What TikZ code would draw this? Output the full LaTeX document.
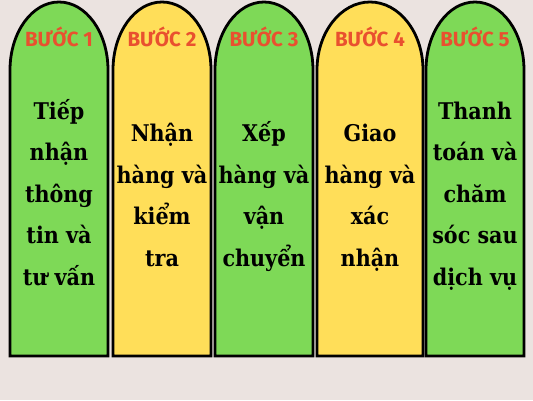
\documentclass[tikz,border=0pt]{standalone}
\usepackage{fontspec}
\setmainfont{DejaVu Serif Condensed}
\newfontfamily\titlefont{Fira Sans}
\usepackage{tikz}

\definecolor{bargreen}{HTML}{7ED957}
\definecolor{baryellow}{HTML}{FFDE59}
\definecolor{titlered}{HTML}{E9502F}
\definecolor{bgpaper}{HTML}{EBE3E0}

\begin{document}
\begin{tikzpicture}[x=1pt, y=1pt,
            green bar/.style={draw=black, line width=2.8pt, fill=bargreen},
            yellow bar/.style={draw=black, line width=2.8pt, fill=baryellow},
            title node/.style={anchor=base, text=titlered, font=\titlefont\bfseries\fontsize{20.5}{21}\selectfont},
            main node/.style={anchor=base, align=center, inner sep=0pt, font=\bfseries\fontsize{23}{41.5}\selectfont}]

        \fill[bgpaper] (0,0) rectangle (533,400);
        \useasboundingbox (0,0) rectangle (533,400);

        \draw[green bar] (10,44) -- (10,330) arc[start angle=180, end angle=0, x radius=49, y radius=68] -- (108,44) -- cycle;
        \draw[yellow bar] (113,44) -- (113,330) arc[start angle=180, end angle=0, x radius=49, y radius=68] -- (211,44) -- cycle;
        \draw[green bar] (215,44) -- (215,330) arc[start angle=180, end angle=0, x radius=49, y radius=68] -- (313,44) -- cycle;
        \draw[yellow bar] (317,44) -- (317,330) arc[start angle=180, end angle=0, x radius=53, y radius=68] -- (423,44) -- cycle;
        \draw[green bar] (426,44) -- (426,330) arc[start angle=180, end angle=0, x radius=49, y radius=68] -- (524,44) -- cycle;

        \node[title node] (title1) at (59,353.5) {BƯỚC 1};
        \node[title node] (title2) at (162,353.5) {BƯỚC 2};
        \node[title node] (title3) at (264,353.5) {BƯỚC 3};
        \node[title node] (title4) at (370,353.5) {BƯỚC 4};
        \node[title node] (title5) at (475,353.5) {BƯỚC 5};

        \node[main node] (body1) at (59,115) {Tiếp\\ nhận\\ thông\\ tin và\\ tư vấn};
        \node[main node] (body2) at (162,134) {Nhận\\ hàng và\\ kiểm\\ tra};
        \node[main node] (body3) at (264,134) {Xếp\\ hàng và\\ vận\\ chuyển};
        \node[main node] (body4) at (370,134) {Giao\\ hàng và\\ xác\\ nhận};
        \node[main node] (body5) at (475,115) {Thanh\\ toán và\\ chăm\\ sóc sau\\ dịch vụ};
        \end{tikzpicture}
\end{document}
